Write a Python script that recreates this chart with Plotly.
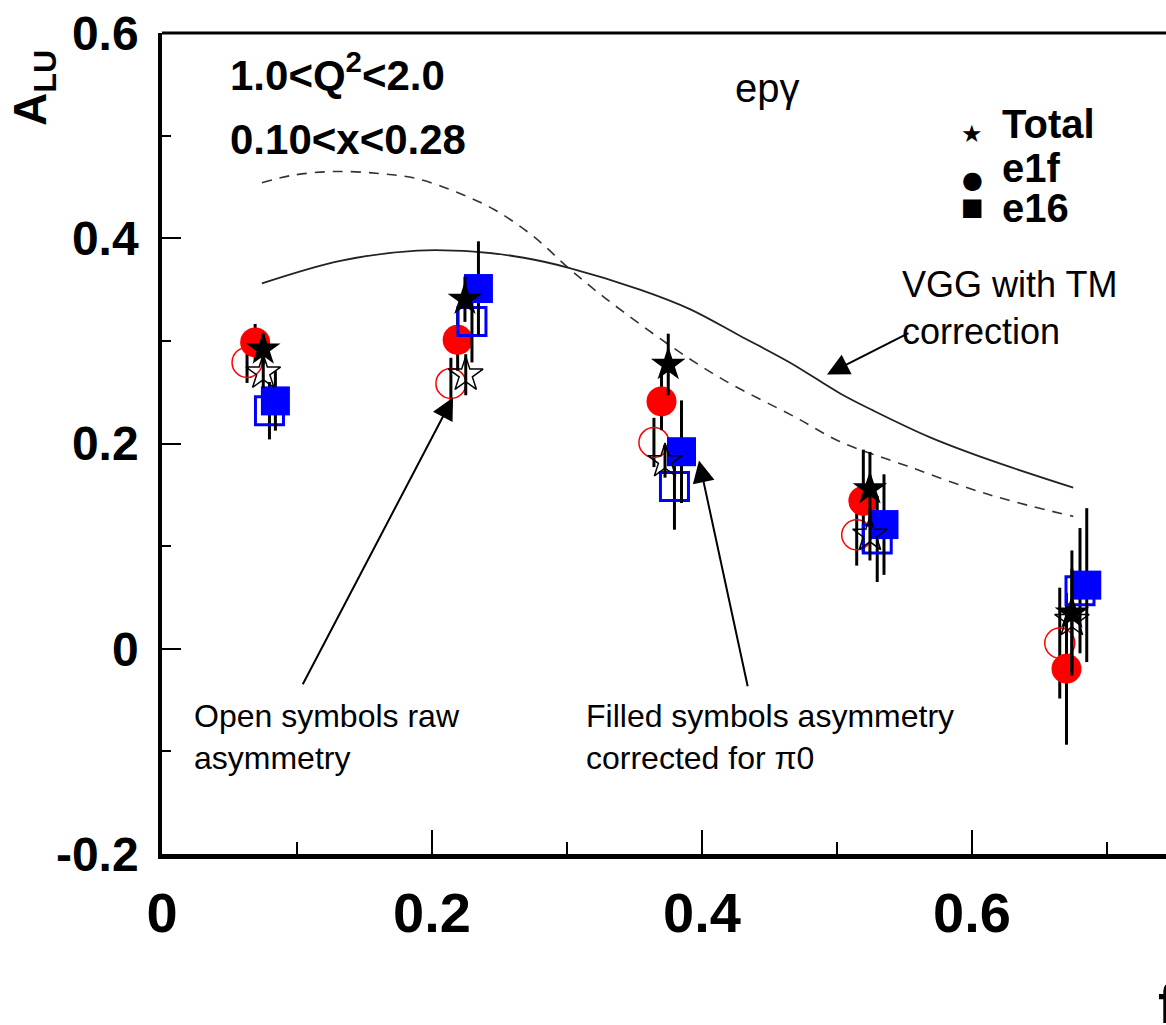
import plotly.graph_objects as go

# ---------------- data ----------------
# e1f (circles)
e1f_x = [0.069, 0.219, 0.370, 0.5195, 0.670]
e1f_y = [0.2985, 0.301, 0.241, 0.144, -0.0195]
e1f_err = [0.018, 0.030, 0.028, 0.050, 0.074]
e1f_raw_x = [0.063, 0.214, 0.3644, 0.5146, 0.665]
e1f_raw_y = [0.279, 0.2585, 0.201, 0.111, 0.0055]
e1f_raw_err = [0.020, 0.025, 0.024, 0.030, 0.054]
# e16 (squares)
e16_x = [0.084, 0.2344, 0.3848, 0.5348, 0.685]
e16_y = [0.2415, 0.351, 0.192, 0.121, 0.062]
e16_err = [0.029, 0.046, 0.050, 0.049, 0.075]
e16_raw_x = [0.0796, 0.2296, 0.3796, 0.5298, 0.680]
e16_raw_y = [0.232, 0.319, 0.158, 0.107, 0.0566]
e16_raw_err = [0.028, 0.040, 0.042, 0.042, 0.061]
# Total (stars)
tot_x = [0.075, 0.2244, 0.375, 0.5244, 0.674]
tot_y = [0.292, 0.3405, 0.277, 0.1558, 0.0348]
tot_err = [0.015, 0.022, 0.030, 0.036, 0.061]
tot_raw_x = [0.075, 0.225, 0.3726, 0.5244, 0.674]
tot_raw_y = [0.269, 0.267, 0.1827, 0.111, 0.028]
tot_raw_err = [0.015, 0.020, 0.016, 0.025, 0.050]

# VGG curves
vgg_tm_x = [0.074, 0.132, 0.189, 0.231, 0.268, 0.302, 0.354, 0.391, 0.428, 0.465, 0.502, 0.527, 0.569, 0.613, 0.675]
vgg_tm_y = [0.356, 0.378, 0.388, 0.387, 0.381, 0.371, 0.350, 0.331, 0.305, 0.279, 0.249, 0.232, 0.206, 0.184, 0.157]
vgg_x = [0.074, 0.095, 0.127, 0.162, 0.189, 0.218, 0.246, 0.275, 0.302, 0.329, 0.379, 0.416, 0.470, 0.502, 0.552, 0.613, 0.675]
vgg_y = [0.454, 0.461, 0.465, 0.463, 0.458, 0.445, 0.428, 0.402, 0.370, 0.341, 0.293, 0.262, 0.225, 0.202, 0.178, 0.150, 0.129]

x_ticks = [0, 0.2, 0.4, 0.6]
x_tick_labels = ["0", "0.2", "0.4", "0.6"]
y_ticks = [-0.2, 0, 0.2, 0.4, 0.6]
y_tick_labels = ["-0.2", "0", "0.2", "0.4", "0.6"]

# ---------------- layout geometry ----------------
W, H = 1166, 1025
L, T, B = 162, 33, 854  # pixel edges of plot area
X_MAX = (W - L) / 1350.0

SANS = "Liberation Sans, Arial, sans-serif"


def px(xp):
    return (xp - L) / (W - L)


def py(yp):
    return (B - yp) / (B - T)


fig = go.Figure()


def err(arr):
    return dict(type="data", array=arr, color="black", thickness=3, width=0, visible=True)


fig.add_trace(go.Scatter(x=vgg_x, y=vgg_y, mode="lines",
                         line=dict(color="#333333", width=1.6, dash="10px,8px", shape="spline", smoothing=1.0)))
fig.add_trace(go.Scatter(x=vgg_tm_x, y=vgg_tm_y, mode="lines",
                         line=dict(color="#222222", width=1.8, shape="spline", smoothing=1.0)))

fig.add_trace(go.Scatter(x=e1f_raw_x, y=e1f_raw_y, mode="markers", error_y=err(e1f_raw_err),
                         marker=dict(symbol="circle-open", size=30, color="red", line=dict(color="red", width=1.5))))
fig.add_trace(go.Scatter(x=e1f_x, y=e1f_y, mode="markers", error_y=err(e1f_err),
                         marker=dict(symbol="circle", size=30, color="#ff0000", line=dict(width=0))))
fig.add_trace(go.Scatter(x=e16_raw_x, y=e16_raw_y, mode="markers", error_y=err(e16_raw_err),
                         marker=dict(symbol="square-open", size=28, color="#0000ff", line=dict(color="#0000ff", width=3))))
fig.add_trace(go.Scatter(x=e16_x, y=e16_y, mode="markers", error_y=err(e16_err),
                         marker=dict(symbol="square", size=29, color="#0000ff", line=dict(width=0))))
fig.add_trace(go.Scatter(x=tot_raw_x, y=tot_raw_y, mode="markers", error_y=err(tot_raw_err),
                         marker=dict(symbol="star-open", size=26, color="black", line=dict(color="black", width=1.5))))
fig.add_trace(go.Scatter(x=tot_x, y=tot_y, mode="markers", error_y=err(tot_err),
                         marker=dict(symbol="star", size=26, color="black", line=dict(width=0))))

ann = []
# corner labels
ann.append(dict(x=px(228), y=py(72), xref="paper", yref="paper", xanchor="left", yanchor="middle",
                text="<b>1.0&lt;Q<sup>2</sup>&lt;2.0</b>", showarrow=False,
                font=dict(family=SANS, size=42, color="black")))
ann.append(dict(x=px(228), y=py(139), xref="paper", yref="paper", xanchor="left", yanchor="middle",
                text="<b>0.10&lt;x&lt;0.28</b>", showarrow=False,
                font=dict(family=SANS, size=42, color="black")))
ann.append(dict(x=px(733), y=py(88), xref="paper", yref="paper", xanchor="left", yanchor="middle",
                text="epγ", showarrow=False, font=dict(family=SANS, size=40, color="black")))
# legend
leg = [("★", "Total", 134, 124), ("●", "e1f", 180, 168), ("■", "e16", 207, 208)]
for sym, lab, ys, yt in leg:
    ann.append(dict(x=px(972), y=py(ys), xref="paper", yref="paper", xanchor="center", yanchor="middle",
                    text=sym, showarrow=False, font=dict(family="DejaVu Sans", size=24, color="black")))
    ann.append(dict(x=px(1000), y=py(yt), xref="paper", yref="paper", xanchor="left", yanchor="middle",
                    text="<b>%s</b>" % lab, showarrow=False, font=dict(family=SANS, size=40, color="black")))
# axis title
ann.append(dict(x=px(33), y=py(88), xref="paper", yref="paper", xanchor="center", yanchor="middle",
                text="<b>A<sub>LU</sub></b>", textangle=-90, showarrow=False,
                font=dict(family=SANS, size=46, color="black")))
ann.append(dict(x=px(1156), y=py(1003), xref="paper", yref="paper", xanchor="left", yanchor="middle",
                text="<b>f</b>", showarrow=False, font=dict(family=SANS, size=56, color="black")))
# texts with arrows
ann.append(dict(x=px(192), y=py(737), xref="paper", yref="paper", xanchor="left", yanchor="middle", align="left",
                text="Open symbols raw<br>asymmetry", showarrow=False,
                font=dict(family=SANS, size=32, color="black")))
ann.append(dict(x=px(584), y=py(737), xref="paper", yref="paper", xanchor="left", yanchor="middle", align="left",
                text="Filled symbols asymmetry<br>corrected for π0", showarrow=False,
                font=dict(family=SANS, size=32, color="black")))
ann.append(dict(x=px(900), y=py(308), xref="paper", yref="paper", xanchor="left", yanchor="middle", align="left",
                text="VGG with TM<br>correction", showarrow=False,
                font=dict(family=SANS, size=36, color="black")))
arrows = [((453, 398), (302, 686)), ((699, 461), (748, 688)), ((827, 375), (910, 333))]
for (hx, hy), (tx, ty) in arrows:
    ann.append(dict(x=(hx - L) / 1350.0, y=(649 - hy) / 1025.0, xref="x", yref="y",
                    ax=(tx - L) / 1350.0, ay=(649 - ty) / 1025.0, axref="x", ayref="y",
                    text="", showarrow=True, arrowhead=2, arrowsize=2.2, arrowwidth=2, arrowcolor="black"))

fig.update_layout(
    width=W, height=H,
    margin=dict(l=L, r=0, t=T, b=H - B, pad=0),
    paper_bgcolor="white", plot_bgcolor="white",
    showlegend=False,
    annotations=ann,
    shapes=[dict(type="line", xref="paper", yref="paper", x0=0, x1=1.0, y0=1, y1=1,
                 line=dict(color="black", width=3))],
)
fig.update_xaxes(range=[0, X_MAX], showgrid=False, zeroline=False,
                 showline=True, linecolor="black", linewidth=5,
                 ticks="inside", ticklen=24, tickwidth=1.5, tickcolor="black",
                 tickvals=x_ticks, ticktext=x_tick_labels, ticklabelstandoff=6,
                 tickfont=dict(family=SANS, size=56, color="black", weight="bold"),
                 minor=dict(ticks="inside", ticklen=12, tickwidth=1.5, tickcolor="black", dtick=0.1, tick0=0.1, showgrid=False))
fig.update_yaxes(range=[-0.2, 0.6], showgrid=False, zeroline=False,
                 showline=True, linecolor="black", linewidth=3.5,
                 ticks="inside", ticklen=19, tickwidth=1.5, tickcolor="black",
                 tickvals=y_ticks, ticktext=y_tick_labels, ticklabelstandoff=10,
                 tickfont=dict(family=SANS, size=48, color="black", weight="bold"),
                 minor=dict(ticks="inside", ticklen=9, tickwidth=1.5, tickcolor="black", dtick=0.2, tick0=0.1, showgrid=False))

fig.write_html("out.html")
